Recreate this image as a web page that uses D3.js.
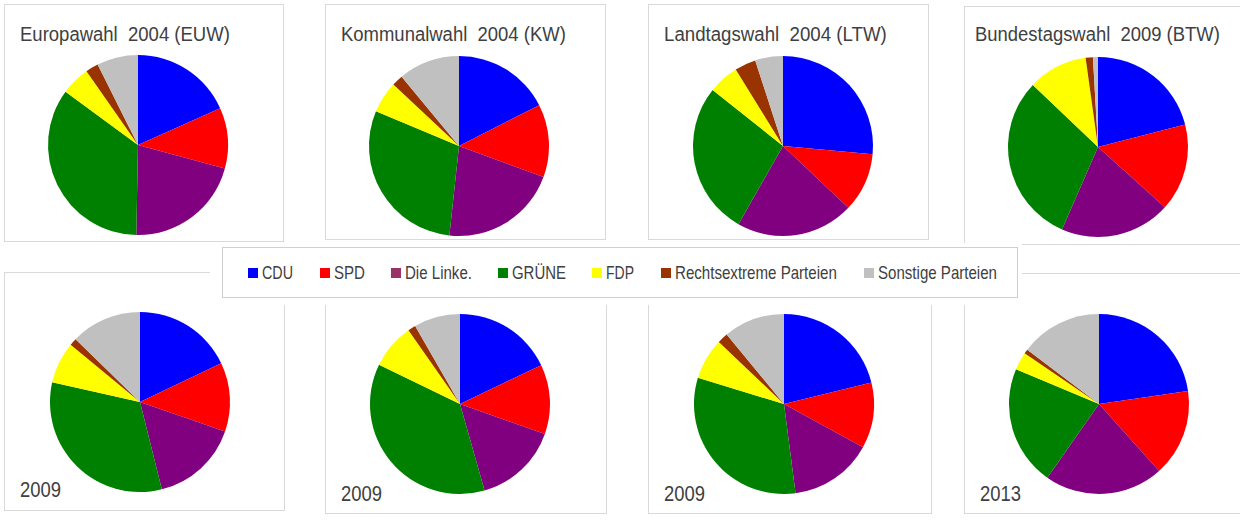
<!DOCTYPE html>
<html>
<head>
<meta charset="utf-8">
<script src="https://cdn.jsdelivr.net/npm/d3@7"></script>
<style>
  body { margin: 0; background: #fff; }
  svg { display: block; font-family: "Liberation Sans", Arial, sans-serif; }
  text { white-space: pre; }
</style>
</head>
<body>
<div id="chart"></div>
<script>
// parties, in the order the slices run clockwise from 12 o'clock
var parties = ["CDU", "SPD", "Die Linke.", "GRÜNE", "FDP", "Rechtsextreme Parteien", "Sonstige Parteien"];
var pieColors = ["#0000ff", "#ff0000", "#800080", "#008000", "#ffff00", "#993300", "#c0c0c0"];
var legendColors = ["#0000ff", "#ff0000", "#993366", "#008000", "#ffff00", "#993300", "#c0c0c0"];

// vote shares in percent
var euw2004 = [18.3, 10.9, 21.1, 34.8, 5.2, 2.3, 7.4];
var kw2004  = [17.5, 13.1, 21.1, 29.6, 5.7, 2.0, 11.0];
var ltw2004 = [26.5, 10.6, 21.2, 27.5, 5.5, 3.8, 5.0];
var btw2009 = [21.0, 15.7, 19.9, 30.6, 10.7, 1.3, 0.9];
var euw2009 = [17.9, 12.4, 15.8, 32.4, 7.5, 1.3, 12.7];
var kw2009  = [17.9, 12.5, 15.2, 36.6, 8.1, 1.4, 8.3];
var ltw2009 = [21.2, 11.8, 15.0, 31.8, 7.4, 1.9, 11.0];
var btw2013 = [22.7, 15.7, 21.4, 21.6, 3.2, 0.8, 14.7];

var titles = ["Europawahl  2004 (EUW)", "Kommunalwahl  2004 (KW)", "Landtagswahl  2004 (LTW)", "Bundestagswahl  2009 (BTW)"];
var years = ["2009", "2009", "2009", "2013"];

var width = 1240, height = 520;
var svg = d3.select("#chart").append("svg")
  .attr("width", width)
  .attr("height", height);

// the original font is a narrow sans; squeeze the text horizontally to the width seen
function narrowText(sel, x, y, w) {
  var natural = sel.node().getComputedTextLength();
  sel.attr("transform", "translate(" + x + "," + y + ") scale(" + (w / natural) + ",1)");
}

// panel frames + pie centres (layout only); the right column runs off the edge
var panels = [
  {x: 4,   y: 4,   w: 279, h: 237, cx: 138,  cy: 145, data: euw2004, title: titles[0], tx: 20,  tw: 210},
  {x: 325, y: 4,   w: 280, h: 235, cx: 459,  cy: 146, data: kw2004,  title: titles[1], tx: 341, tw: 225},
  {x: 648, y: 4,   w: 280, h: 235, cx: 783,  cy: 146, data: ltw2004, title: titles[2], tx: 664, tw: 223},
  {x: 964, y: 6,   w: 290, h: 238, cx: 1098, cy: 147, data: btw2009, title: titles[3], tx: 975, tw: 245},
  {x: 4,   y: 272, w: 280, h: 238, cx: 140,  cy: 402, data: euw2009, year: years[0], tx: 20,  ty: 497},
  {x: 325, y: 272, w: 281, h: 241, cx: 460,  cy: 404, data: kw2009,  year: years[1], tx: 341, ty: 501},
  {x: 648, y: 272, w: 283, h: 241, cx: 784,  cy: 404, data: ltw2009, year: years[2], tx: 664, ty: 501},
  {x: 964, y: 273, w: 290, h: 240, cx: 1099, cy: 404, data: btw2013, year: years[3], tx: 980, ty: 501}
];

var radius = 90;
var pie = d3.pie().sort(null).value(function(d) { return d; });
var arc = d3.arc().innerRadius(0).outerRadius(radius);

panels.forEach(function(p, i) {
  var g = svg.append("g").attr("class", "panel");

  g.append("rect")
    .attr("x", p.x + 0.5).attr("y", p.y + 0.5)
    .attr("width", p.w).attr("height", p.h)
    .attr("fill", "#fff")
    .attr("stroke", "#d9d9d9");

  g.append("g")
    .attr("transform", "translate(" + p.cx + "," + p.cy + ")")
    .selectAll("path")
    .data(pie(p.data))
    .enter().append("path")
    .attr("d", arc)
    .attr("fill", function(d, j) { return pieColors[j]; });

  if (p.title) {
    var t = g.append("text")
      .attr("font-size", 21)
      .attr("fill", "#404040")
      .text(p.title);
    narrowText(t, p.tx, 41, p.tw);
  } else {
    var y = g.append("text")
      .attr("font-size", 22)
      .attr("fill", "#404040")
      .text(p.year);
    narrowText(y, p.tx, p.ty, 41);
  }
});

// white band behind the legend
svg.append("rect")
  .attr("x", 210).attr("y", 243)
  .attr("width", 812).attr("height", 62)
  .attr("fill", "#fff");

var legend = svg.append("g");
legend.append("rect")
  .attr("x", 222.5).attr("y", 247.5)
  .attr("width", 795).attr("height", 50)
  .attr("fill", "#fff")
  .attr("stroke", "#d0d0d0");

var legendX = [248, 320, 391, 498, 592, 661, 864];
var legendW = [31, 31, 67, 54, 28, 162, 119];

var items = legend.selectAll("g.item")
  .data(parties)
  .enter().append("g")
  .attr("class", "item")
  .attr("transform", function(d, i) { return "translate(" + legendX[i] + ",268)"; });

items.append("rect")
  .attr("width", 10).attr("height", 10)
  .attr("fill", function(d, i) { return legendColors[i]; });

items.append("text")
  .attr("font-size", 17.5)
  .attr("fill", "#404040")
  .text(function(d) { return d; })
  .each(function(d, i) { narrowText(d3.select(this), 14, 11, legendW[i]); });
</script>
</body>
</html>
